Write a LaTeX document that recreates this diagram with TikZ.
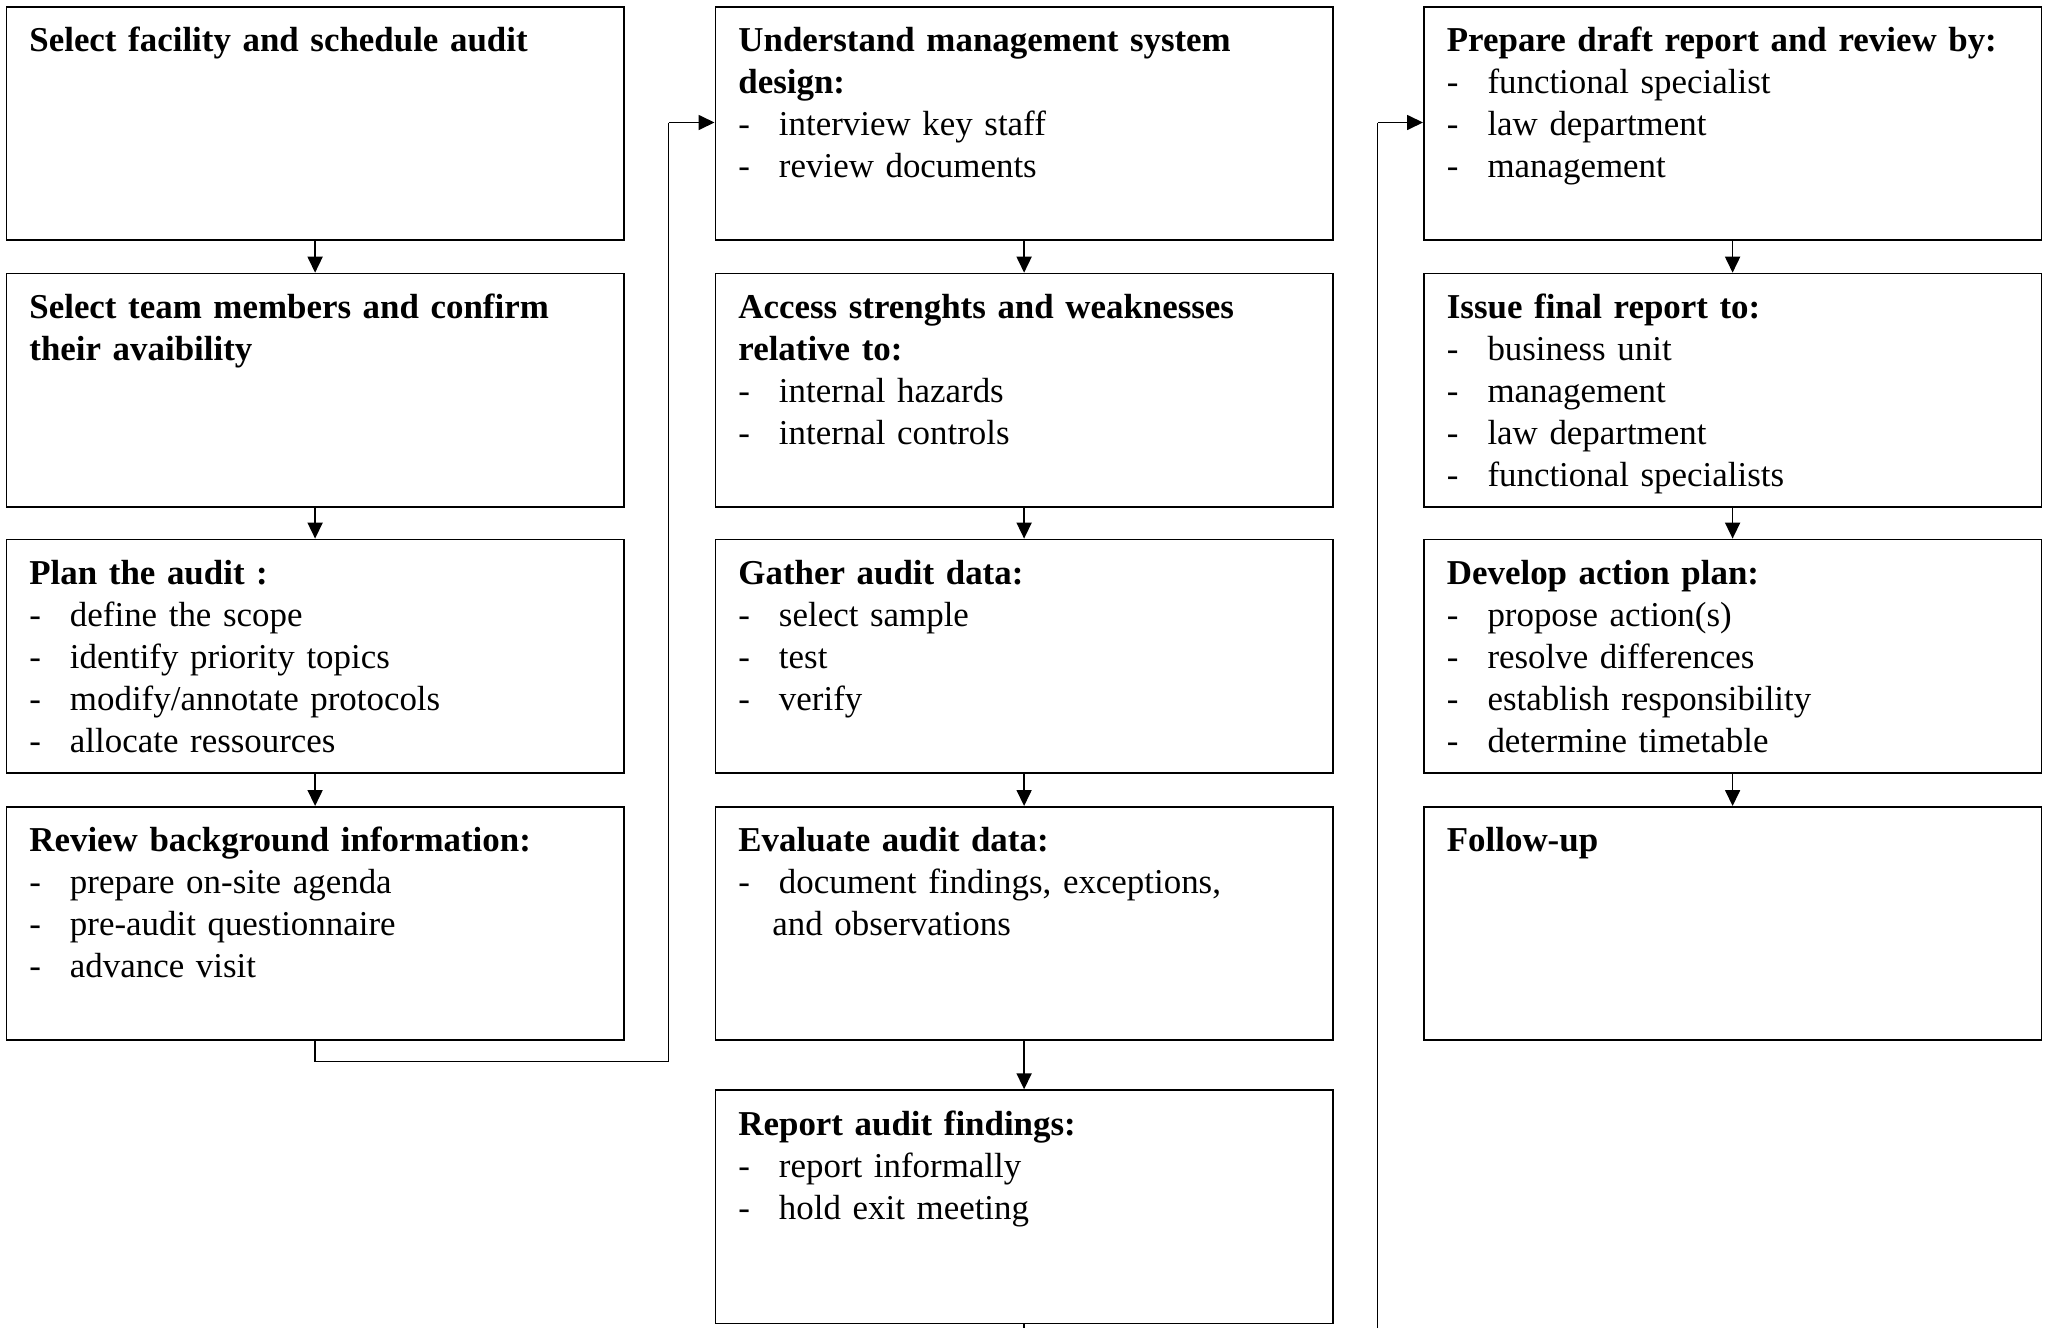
\documentclass[tikz,border=0pt]{standalone}
\usepackage{fontspec}
\setmainfont{Liberation Serif}
\usetikzlibrary{calc,arrows.meta}

% dash-led list entry with a hanging indent
\newcommand\dashitem[1]{\makebox[20.3pt][l]{-}#1}

\begin{document}
\begin{tikzpicture}[x=0.5pt,y=-0.5pt,
  box/.style={draw,line width=0.85pt,rectangle,inner sep=0pt,anchor=north west,
              minimum width=308.75pt,minimum height=116.6pt},
  txt/.style={inner sep=0pt,anchor=base west,text width=292pt,align=left,
              font=\fontsize{17.45}{21}\selectfont},
  arr/.style={line width=0.85pt,-{Triangle[length=8pt,width=7.5pt]}},
  conn/.style={line width=0.85pt}]
\useasboundingbox (0,0) rectangle (2045,1328);

% ---- left column ----
\node[box] (b11) at (5.5,6) {};
\node[txt] (t11) at ($(b11.north west)+(23.5,45.7)$)
  {\textbf{Select facility and schedule audit}};
\node[box] (b12) at (5.5,272.7) {};
\node[txt] (t12) at ($(b12.north west)+(23.5,45.7)$)
  {\textbf{Select team members and confirm\\their avaibility}};
\node[box] (b13) at (5.5,538.6) {};
\node[txt] (t13) at ($(b13.north west)+(23.5,45.7)$)
  {\textbf{Plan the audit :}\\\dashitem{define the scope}\\\dashitem{identify priority topics}\\\dashitem{modify/annotate protocols}\\\dashitem{allocate ressources}};
\node[box] (b14) at (5.5,806) {};
\node[txt] (t14) at ($(b14.north west)+(23.5,45.7)$)
  {\textbf{Review background information:}\\\dashitem{prepare on-site agenda}\\\dashitem{pre-audit questionnaire}\\\dashitem{advance visit}};

% ---- middle column ----
\node[box] (b21) at (714.5,6) {};
\node[txt] (t21) at ($(b21.north west)+(23.5,45.7)$)
  {\textbf{Understand management system\\design:}\\\dashitem{interview key staff}\\\dashitem{review documents}};
\node[box] (b22) at (714.5,272.7) {};
\node[txt] (t22) at ($(b22.north west)+(23.5,45.7)$)
  {\textbf{Access strenghts and weaknesses\\relative to:}\\\dashitem{internal hazards}\\\dashitem{internal controls}};
\node[box] (b23) at (714.5,538.6) {};
\node[txt] (t23) at ($(b23.north west)+(23.5,45.7)$)
  {\textbf{Gather audit data:}\\\dashitem{select sample}\\\dashitem{test}\\\dashitem{verify}};
\node[box] (b24) at (714.5,806) {};
\node[txt] (t24) at ($(b24.north west)+(23.5,45.7)$)
  {\textbf{Evaluate audit data:}\\\dashitem{document findings, exceptions,}\\\hspace*{17pt}and observations};
\node[box] (b25) at (714.5,1089.3) {};
\node[txt] (t25) at ($(b25.north west)+(23.5,45.7)$)
  {\textbf{Report audit findings:}\\\dashitem{report informally}\\\dashitem{hold exit meeting}};

% ---- right column ----
\node[box] (b31) at (1423,6) {};
\node[txt] (t31) at ($(b31.north west)+(23.5,45.7)$)
  {\textbf{Prepare draft report and review by:}\\\dashitem{functional specialist}\\\dashitem{law department}\\\dashitem{management}};
\node[box] (b32) at (1423,272.7) {};
\node[txt] (t32) at ($(b32.north west)+(23.5,45.7)$)
  {\textbf{Issue final report to:}\\\dashitem{business unit}\\\dashitem{management}\\\dashitem{law department}\\\dashitem{functional specialists}};
\node[box] (b33) at (1423,538.6) {};
\node[txt] (t33) at ($(b33.north west)+(23.5,45.7)$)
  {\textbf{Develop action plan:}\\\dashitem{propose action(s)}\\\dashitem{resolve differences}\\\dashitem{establish responsibility}\\\dashitem{determine timetable}};
\node[box] (b34) at (1423,806) {};
\node[txt] (t34) at ($(b34.north west)+(23.5,45.7)$)
  {\textbf{Follow-up}};

% ---- arrows within columns ----
\draw[arr] (b11) -- (b12);
\draw[arr] (b12) -- (b13);
\draw[arr] (b13) -- (b14);
\draw[arr] (b21) -- (b22);
\draw[arr] (b22) -- (b23);
\draw[arr] (b23) -- (b24);
\draw[arr] (b24) -- (b25);
\draw[arr] (b31) -- (b32);
\draw[arr] (b32) -- (b33);
\draw[arr] (b33) -- (b34);

% ---- links between columns ----
\coordinate (j1) at (668.5,1061.5);
\coordinate (j2) at (668.5,122.5);
\draw[conn] (b14.south) |- (j1) -- (j2);
\draw[arr] (j2) -- (b21.west |- j2);

\coordinate (k0) at (1377.5,1328);
\coordinate (k1) at (1377.5,122.5);
\coordinate (r0) at (b25.south |- k0);
\draw[conn] (b25.south) -- (r0);
\draw[conn] (k0) -- (k1);
\draw[arr] (k1) -- (b31.west |- k1);
\end{tikzpicture}
\end{document}
